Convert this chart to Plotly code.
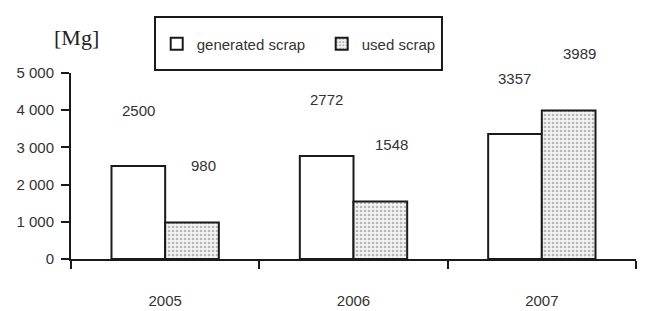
import plotly.graph_objects as go

years = ["2005", "2006", "2007"]
generated = [2500, 2772, 3357]
used = [980, 1548, 3989]
y_ticks = [0, 1000, 2000, 3000, 4000, 5000]
y_tick_text = ["0", "1 000", "2 000", "3 000", "4 000", "5 000"]

FONT = "Liberation Sans, Arial, sans-serif"
TXT = "#333333"
FS = 15

fig = go.Figure()
fig.add_trace(go.Bar(
    x=years, y=generated, name="generated scrap",
    marker=dict(color="white", line=dict(color="#1a1a1a", width=2)),
))
fig.add_trace(go.Bar(
    x=years, y=used, name="used scrap",
    marker=dict(color="#f2f2f2", line=dict(color="#1a1a1a", width=2),
                pattern=dict(shape=".", fgcolor="#777777", bgcolor="#f4f4f4",
                             size=4, solidity=0.35)),
))

annotations = []
for i, v in enumerate(generated):
    annotations.append(dict(x=i, y=v, text=str(v), showarrow=False, xref="x", yref="y",
                            xshift=-27, yshift=56, font=dict(family=FONT, size=FS, color=TXT)))
for i, v in enumerate(used):
    annotations.append(dict(x=i, y=v, text=str(v), showarrow=False, xref="x", yref="y",
                            xshift=38, yshift=57, font=dict(family=FONT, size=FS, color=TXT)))
annotations.append(dict(x=0.009, y=1.19, xref="paper", yref="paper", text="[Mg]",
                        xanchor="center", yanchor="middle",
                        showarrow=False, font=dict(family="Liberation Serif, Times New Roman, serif",
                                                   size=22, color="#222222")))

fig.update_layout(
    width=640, height=303,
    margin=dict(l=63, r=12, t=65, b=52, autoexpand=False),
    paper_bgcolor="white", plot_bgcolor="white",
    barmode="group", bargap=0.43, bargroupgap=0,
    font=dict(family=FONT, size=FS, color=TXT),
    showlegend=True,
    legend=dict(orientation="h", x=0.1517, y=1.156, xanchor="left", yanchor="middle",
                bgcolor="rgba(0,0,0,0)", borderwidth=0,
                font=dict(family=FONT, size=FS, color=TXT),
                entrywidth=120, entrywidthmode="pixels"),
    annotations=annotations,
    shapes=[dict(type="rect", xref="paper", yref="paper", x0=0.1487, x1=0.6566,
                 y0=1.016, y1=1.301, line=dict(color="#1a1a1a", width=2))],
)
fig.update_xaxes(
    type="category", automargin=False, range=[-0.5, 2.5],
    showline=True, linecolor="#1a1a1a", linewidth=2,
    ticks="outside", tickson="boundaries", ticklen=8, tickwidth=2, tickcolor="#1a1a1a",
    ticklabelstandoff=27, showgrid=False, zeroline=False, tickangle=0,
    tickfont=dict(family=FONT, size=FS, color=TXT),
)
fig.update_yaxes(
    range=[0, 5000], automargin=False, showline=True, linecolor="#1a1a1a", linewidth=2,
    ticks="outside", ticklen=8, tickwidth=2, tickcolor="#1a1a1a",
    tickvals=y_ticks, ticktext=y_tick_text, showgrid=False, zeroline=False,
    ticklabelstandoff=4,
    tickfont=dict(family=FONT, size=FS, color=TXT),
)

fig.write_html("out.html")
